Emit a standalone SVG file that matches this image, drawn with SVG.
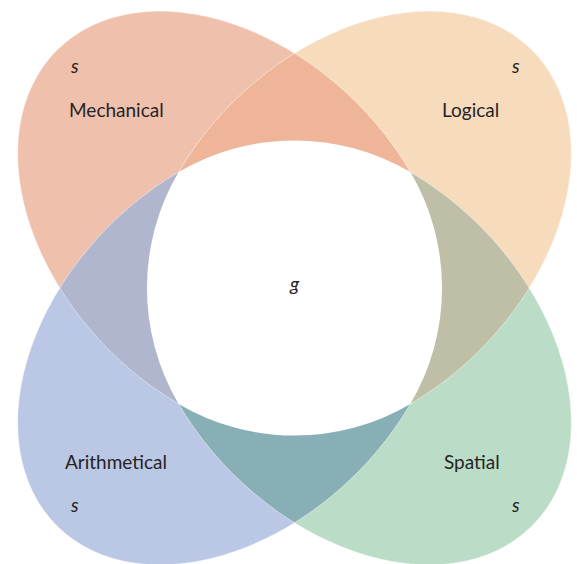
<svg xmlns="http://www.w3.org/2000/svg" xmlns:xlink="http://www.w3.org/1999/xlink" width="577" height="564" viewBox="0 0 577 564">
  <style>
    .label { font-family: Lato, "Open Sans", "Liberation Sans", sans-serif; font-size: 19px; fill: #262324; }
    .factor { font-family: Lato, "Open Sans", "Liberation Sans", sans-serif; font-size: 19px; font-style: italic; fill: #262324; }
    .seam { fill: none; stroke: #ffffff; stroke-width: 0.8; stroke-opacity: 0.55; }
  </style>
  <defs>
    <!-- each petal: an ellipse (a=249, b=175) cut along the chord through the centre -->
    <path id="p-mech" d="M 410.4 172.1 A 249 175 45 1 0 178.6 403.9 Z"/>
    <path id="p-logic" d="M 178.6 172.1 A 249 175 -45 1 1 410.4 403.9 Z"/>
    <path id="p-arith" d="M 410.4 403.9 A 249 175 -45 1 1 178.6 172.1 Z"/>
    <path id="p-spat" d="M 178.6 403.9 A 249 175 45 1 0 410.4 172.1 Z"/>
    <clipPath id="clip-mech"><use xlink:href="#p-mech"/></clipPath>
    <clipPath id="clip-spat"><use xlink:href="#p-spat"/></clipPath>
  </defs>

  <g id="mechanical">
    <use xlink:href="#p-mech" fill="#EFC1AD"/>
  </g>
  <g id="logical">
    <use xlink:href="#p-logic" fill="#F7DBBD"/>
  </g>
  <g id="arithmetical">
    <use xlink:href="#p-arith" fill="#BAC8E5"/>
  </g>
  <g id="spatial">
    <use xlink:href="#p-spat" fill="#BBDDC7"/>
  </g>

  <!-- overlaps between neighbouring petals -->
  <g id="overlaps">
    <use xlink:href="#p-logic" fill="#EEB599" clip-path="url(#clip-mech)"/>
    <use xlink:href="#p-arith" fill="#AFB6CD" clip-path="url(#clip-mech)"/>
    <use xlink:href="#p-arith" fill="#88AFB6" clip-path="url(#clip-spat)"/>
    <use xlink:href="#p-logic" fill="#BFBFA7" clip-path="url(#clip-spat)"/>
  </g>

  <!-- thin light seams along the petal edges -->
  <g id="seams">
    <path class="seam" d="M 410.4 172.1 A 249 175 45 1 0 178.6 403.9"/>
    <path class="seam" d="M 178.6 172.1 A 249 175 -45 1 1 410.4 403.9"/>
    <path class="seam" d="M 410.4 403.9 A 249 175 -45 1 1 178.6 172.1"/>
    <path class="seam" d="M 178.6 403.9 A 249 175 45 1 0 410.4 172.1"/>
  </g>

  <!-- shared core g: four circular arcs meeting at the petal crossings -->
  <g id="general">
    <path fill="#ffffff" d="M 178.6 172.1 A 228 228 0 0 1 410.4 172.1 A 228 228 0 0 1 410.4 403.9 A 228 228 0 0 1 178.6 403.9 A 228 228 0 0 1 178.6 172.1 Z"/>
    <text class="factor" x="290" y="291">g</text>
  </g>

  <g id="labels">
    <text class="factor" x="71" y="73">s</text>
    <text class="label" x="69" y="117">Mechanical</text>
    <text class="factor" x="512" y="73">s</text>
    <text class="label" x="442" y="117">Logical</text>
    <text class="label" x="65" y="469">Arithmetical</text>
    <text class="factor" x="71" y="512">s</text>
    <text class="label" x="444" y="469">Spatial</text>
    <text class="factor" x="512" y="512">s</text>
  </g>
</svg>
